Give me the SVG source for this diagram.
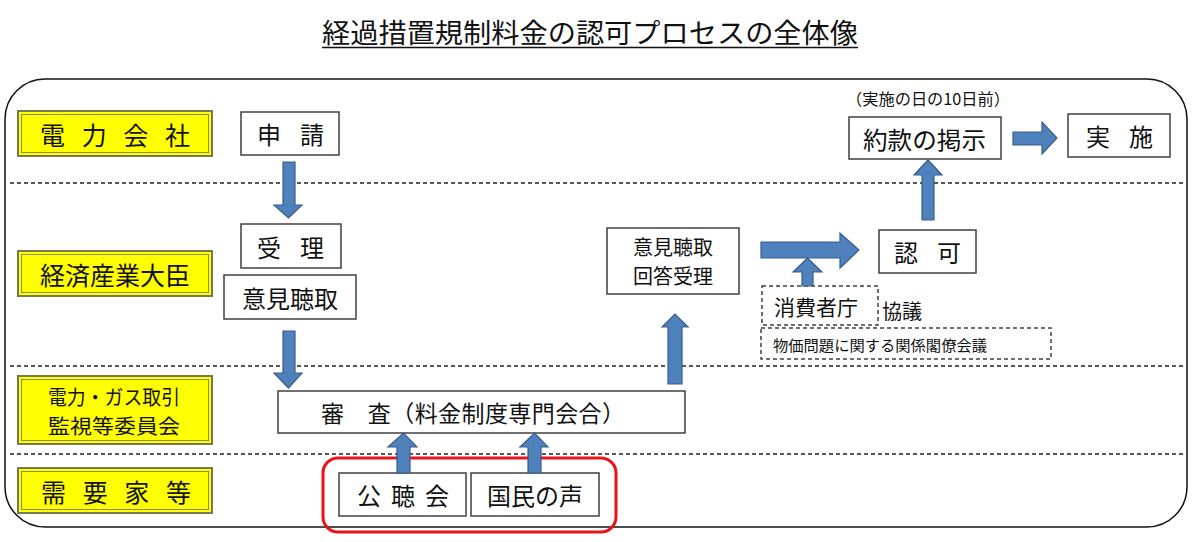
<svg xmlns="http://www.w3.org/2000/svg" width="1200" height="542" viewBox="0 0 1200 542">
<style>
text{font-family:"Noto Sans CJK JP","Noto Sans",sans-serif;fill:#111;}
.c{text-anchor:middle;dominant-baseline:central;}
.box{fill:#fff;stroke:#404040;stroke-width:1.5;}
.dbox{fill:#fff;stroke:#404040;stroke-width:1.5;stroke-dasharray:4 3;}
.yo{fill:#ffff00;stroke:#7a7a50;stroke-width:2;}
.yi{fill:none;stroke:#8c8c40;stroke-width:1;}
.sep{stroke:#222;stroke-width:1.3;stroke-dasharray:4 3;}
.arr{fill:#4f81bd;stroke:#385d8a;stroke-width:1.2;}
</style>
<rect width="1200" height="542" fill="#fff"/>
<g id="title">
<text x="322" y="43" font-size="27" textLength="536" lengthAdjust="spacingAndGlyphs">経過措置規制料金の認可プロセスの全体像</text>
<line x1="322" y1="47.5" x2="858" y2="47.5" stroke="#111" stroke-width="1.5"/>
</g>
<g id="frame">
<rect x="5" y="79" width="1182" height="448" rx="40" ry="40" fill="none" stroke="#111" stroke-width="1.5"/>
<line class="sep" x1="10" y1="183" x2="1186" y2="183"/>
<line class="sep" x1="10" y1="366" x2="1186" y2="366"/>
<line class="sep" x1="10" y1="454" x2="1186" y2="454"/>
</g>
<g id="lane-denryoku">
<rect class="yo" x="18" y="111" width="194" height="45"/>
<rect class="yi" x="21.5" y="114.5" width="187" height="38"/>
<text x="40" y="133.5" font-size="25" dominant-baseline="central" textLength="150" lengthAdjust="spacing">電力会社</text>
</g>
<g id="lane-meti">
<rect class="yo" x="18" y="251" width="194" height="45"/>
<rect class="yi" x="21.5" y="254.5" width="187" height="38"/>
<text class="c" x="115" y="273.5" font-size="25">経済産業大臣</text>
</g>
<g id="lane-iinkai">
<rect class="yo" x="18" y="376" width="194" height="68"/>
<rect class="yi" x="21.5" y="379.5" width="187" height="61"/>
<text x="48" y="396.5" font-size="20" dominant-baseline="central" textLength="132" lengthAdjust="spacingAndGlyphs">電力・ガス取引</text>
<text x="48" y="425.5" font-size="20" dominant-baseline="central" textLength="132" lengthAdjust="spacingAndGlyphs">監視等委員会</text>
</g>
<g id="lane-juyoka">
<rect class="yo" x="18" y="468" width="194" height="45"/>
<rect class="yi" x="21.5" y="471.5" width="187" height="38"/>
<text x="41" y="490.5" font-size="25" dominant-baseline="central" textLength="150" lengthAdjust="spacing">需要家等</text>
</g>
<g id="shinsei">
<rect class="box" x="241" y="112" width="98" height="43"/>
<text x="257" y="133.5" font-size="24" dominant-baseline="central" textLength="67" lengthAdjust="spacing">申請</text>
</g>
<g id="juri">
<rect class="box" x="241" y="224" width="100" height="44"/>
<text x="257" y="246" font-size="24" dominant-baseline="central" textLength="67" lengthAdjust="spacing">受理</text>
</g>
<g id="ikenchoshu">
<rect class="box" x="224" y="275" width="132" height="44"/>
<text class="c" x="290" y="297" font-size="24">意見聴取</text>
</g>
<g id="shinsa">
<rect class="box" x="278" y="391" width="407" height="42"/>
<text x="321" y="412" font-size="23" dominant-baseline="central" textLength="304" lengthAdjust="spacing">審　査（料金制度専門会合）</text>
</g>
<g id="kaitou">
<rect class="box" x="607" y="228" width="132" height="66"/>
<text class="c" x="673" y="246.5" font-size="20">意見聴取</text>
<text class="c" x="673" y="275.5" font-size="20">回答受理</text>
</g>
<g id="shohisha">
<rect class="dbox" x="762" y="286" width="116" height="39"/>
<text class="c" x="816" y="306" font-size="21">消費者庁</text>
</g>
<g id="kyogi">
<text x="882" y="310" font-size="20" dominant-baseline="central">協議</text>
</g>
<g id="kakaku">
<rect class="dbox" x="761" y="328" width="290" height="31"/>
<text x="773" y="344" font-size="15" dominant-baseline="central" textLength="214" lengthAdjust="spacingAndGlyphs">物価問題に関する関係閣僚会議</text>
</g>
<g id="ninka">
<rect class="box" x="879" y="230" width="97" height="43"/>
<text x="894" y="251.5" font-size="24" dominant-baseline="central" textLength="67" lengthAdjust="spacing">認可</text>
</g>
<g id="yakkan">
<text x="846" y="98" font-size="16" dominant-baseline="central" textLength="164" lengthAdjust="spacingAndGlyphs">（実施の日の10日前）</text>
<rect class="box" x="849" y="117" width="152" height="42"/>
<text x="863" y="138" font-size="24" dominant-baseline="central" textLength="123" lengthAdjust="spacingAndGlyphs">約款の掲示</text>
</g>
<g id="jisshi">
<rect class="box" x="1068" y="114" width="102" height="43"/>
<text x="1086" y="135.5" font-size="24" dominant-baseline="central" textLength="67" lengthAdjust="spacing">実施</text>
</g>
<g id="kochokai">
<rect class="box" x="339" y="473" width="127" height="43"/>
<text x="357" y="494.5" font-size="24" dominant-baseline="central" textLength="92" lengthAdjust="spacing">公聴会</text>
</g>
<g id="kokumin">
<rect class="box" x="471" y="473" width="128" height="43"/>
<text class="c" x="535" y="494.5" font-size="24">国民の声</text>
</g>
<g id="highlight">
<rect x="323" y="458" width="293" height="74" rx="15" ry="15" fill="none" stroke="#e8141c" stroke-width="3"/>
</g>
<g id="connectors">
<polygon class="arr" points="283,162 295,162 295,205 302,205 288.5,218 274,205 283,205"/>
<polygon class="arr" points="283,331 295,331 295,373 302,373 288.5,388 274,373 283,373"/>
<polygon class="arr" points="668,384 682,384 682,327 688,327 675,314 662,327 668,327"/>
<polygon class="arr" points="761,242 840,242 840,233 859,250 840,268 840,258 761,258"/>
<polygon class="arr" points="802,286 813,286 813,272 822,272 807.5,258 793,272 802,272"/>
<polygon class="arr" points="922,220 934,220 934,175 942,175 928,160 914,175 922,175"/>
<polygon class="arr" points="1013,132 1042,132 1042,122 1057,138 1042,154 1042,145 1013,145"/>
<polygon class="arr" points="397,473 410,473 410,447 417,447 403.5,433 388,447 397,447"/>
<polygon class="arr" points="528,473 541,473 541,447 548,447 534.5,433 520,447 528,447"/>
</g>
</svg>
